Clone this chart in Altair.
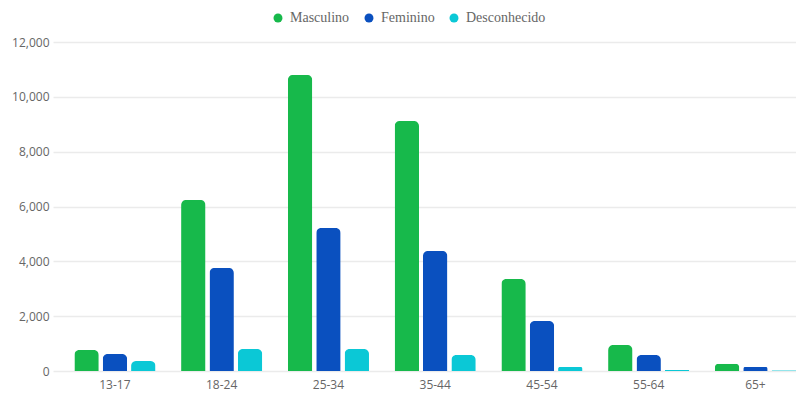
import altair as alt
import pandas as pd

ages = ["13-17", "18-24", "25-34", "35-44", "45-54", "55-64", "65+"]
genders = ["Masculino", "Feminino", "Desconhecido"]
masculino = [770, 6240, 10800, 9120, 3360, 950, 260]
feminino = [620, 3760, 5220, 4380, 1820, 580, 150]
desconhecido = [365, 800, 800, 580, 150, 40, 30]
colors = ["#17b94b", "#0a50bf", "#0bc8d6"]

rows = []
for g, vals in zip(genders, [masculino, feminino, desconhecido]):
    for a, v in zip(ages, vals):
        rows.append({"age": a, "gender": g, "value": v})
df = pd.DataFrame(rows)

chart = alt.Chart(df).mark_bar(
    cornerRadiusTopLeft=5, cornerRadiusTopRight=5
).encode(
    x=alt.X("age:N", sort=ages, title=None,
            scale=alt.Scale(paddingInner=0.24, paddingOuter=0.10, align=1),
            axis=alt.Axis(labelAngle=0, ticks=False, domain=False, grid=False,
                          labelColor="#666", labelFont="Open Sans", labelFontSize=12,
                          labelPadding=8)),
    xOffset=alt.XOffset("gender:N", sort=genders,
                        scale=alt.Scale(paddingInner=0.14)),
    y=alt.Y("value:Q", title=None,
            scale=alt.Scale(domain=[0, 12000]),
            axis=alt.Axis(values=[0, 2000, 4000, 6000, 8000, 10000, 12000],
                          format=",d", ticks=False, domain=False,
                          gridColor="#ebebeb", gridWidth=1.5,
                          labelColor="#666", labelFont="Open Sans", labelFontSize=12,
                          labelPadding=4)),
    color=alt.Color("gender:N", sort=genders,
                    scale=alt.Scale(domain=genders, range=colors),
                    legend=alt.Legend(title=None, orient="none", direction="horizontal",
                                      legendX=218, legendY=-31,
                                      symbolType="circle", symbolSize=80,
                                      labelFont="Liberation Serif", labelFontSize=14,
                                      labelColor="#666", columnPadding=12,
                                      labelOffset=5)),
).properties(
    width=743, height=329,
    autosize=alt.AutoSizeParams(type="none"),
    padding={"left": 45, "top": 34, "right": 0, "bottom": 20},
).configure_view(stroke=None)

chart.save("out.html", embed_options={"renderer": "svg", "actions": False})
